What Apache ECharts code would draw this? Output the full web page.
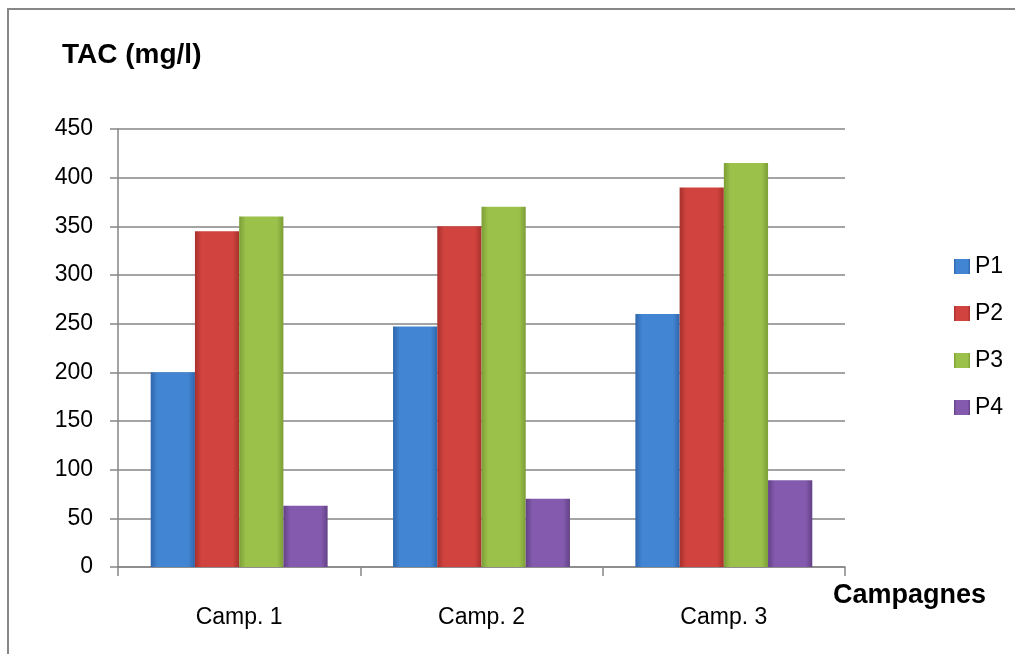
<!DOCTYPE html>
<html>
<head>
<meta charset="utf-8">
<script src="https://cdn.jsdelivr.net/npm/echarts@6/dist/echarts.min.js"></script>
<style>html,body{margin:0;padding:0;background:#fff;}#c{width:1015px;height:654px;}</style>
</head>
<body>
<div id="c"></div>
<script>
const categories = ['Camp. 1', 'Camp. 2', 'Camp. 3'];
const seriesNames = ['P1', 'P2', 'P3', 'P4'];
const P1 = [200, 247, 260];
const P2 = [345, 350, 390];
const P3 = [360, 370, 415];
const P4 = [63, 70, 89];
const yTicks = [0, 50, 100, 150, 200, 250, 300, 350, 400, 450];
const values = [P1, P2, P3, P4];
const palette = [
  ['#2F66AC', '#4285D2', '#2F66AC'],
  ['#A8302D', '#D0433E', '#A8302D'],
  ['#7C9E37', '#9BC14A', '#7C9E37'],
  ['#634185', '#835AAE', '#634185']
];
const FONT = 'Liberation Sans';
function grad(c) {
  return new echarts.graphic.LinearGradient(0, 0, 1, 0, [
    {offset: 0, color: c[0]}, {offset: 0.15, color: c[1]},
    {offset: 0.85, color: c[1]}, {offset: 1, color: c[2]}
  ]);
}
const chart = echarts.init(document.getElementById('c'));
chart.setOption({
  backgroundColor: '#fff',
  animation: false,
  textStyle: {fontFamily: FONT},
  graphic: [
    {type: 'rect', shape: {x: 8, y: 9, width: 1100, height: 800},
     style: {fill: 'none', stroke: '#878787', lineWidth: 2}, z: 0},
    {type: 'text', left: 62, top: 41,
     style: {text: 'TAC (mg/l)', font: 'bold 28px "Liberation Sans"', fill: '#000'}},
    {type: 'text', left: 833, top: 582,
     style: {text: 'Campagnes', font: 'bold 27px "Liberation Sans"', fill: '#000'}}
  ],
  legend: {
    orient: 'vertical', left: 949, top: 250,
    icon: 'rect',
    itemWidth: 16, itemHeight: 15, itemGap: 24,
    data: seriesNames,
    textStyle: {fontSize: 23, lineHeight: 23, color: '#000', fontFamily: FONT}
  },
  grid: {left: 118, right: 170, top: 129, bottom: 87, containLabel: false},
  xAxis: {
    type: 'category', data: categories,
    axisLine: {lineStyle: {color: '#868686', width: 1.5}},
    axisTick: {show: true, length: 9, lineStyle: {color: '#868686', width: 1.5}},
    axisLabel: {fontSize: 23, color: '#000', margin: 39, fontFamily: FONT}
  },
  yAxis: {
    type: 'value', min: yTicks[0], max: yTicks[yTicks.length - 1], interval: 50,
    axisLine: {show: true, lineStyle: {color: '#868686', width: 1.5}},
    axisTick: {show: true, length: 8, lineStyle: {color: '#868686', width: 1.5}},
    splitLine: {lineStyle: {color: '#868686', width: 1.5}},
    axisLabel: {fontSize: 23, color: '#000', margin: 25, fontFamily: FONT}
  },
  series: seriesNames.map((n, i) => ({
    name: n, type: 'bar', data: values[i],
    barGap: '0%', barCategoryGap: '27%',
    itemStyle: {color: grad(palette[i])}
  }))
});
</script>
</body>
</html>
